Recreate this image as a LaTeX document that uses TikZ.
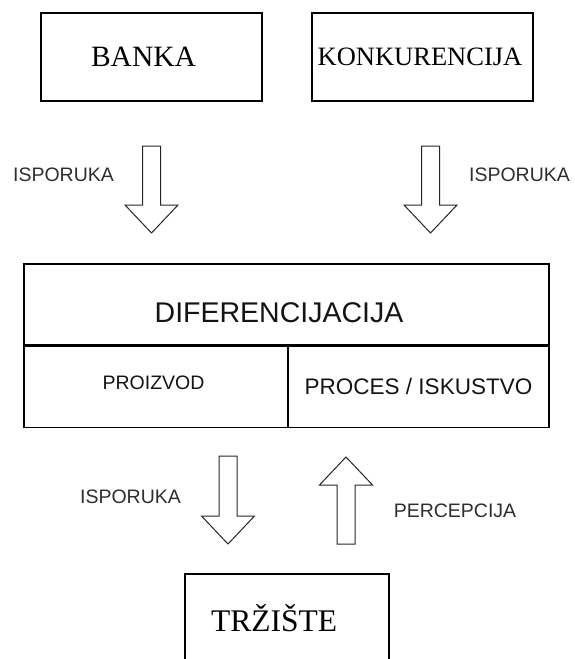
\documentclass[tikz,border=0pt]{standalone}
\usepackage{fontspec}
\setmainfont{Liberation Serif}
\setsansfont{Liberation Sans}
\usetikzlibrary{calc}

% hollow block arrow from tail (#1) to tip (#2), vertical only
\newcommand{\blockarrow}[2]{%
  \draw[blockarr] let \p1=(#1), \p2=(#2), \n1={sign(\y2-\y1)} in
    (\x1-9pt,\y1) -- (\x1+9pt,\y1) -- (\x1+9pt,{\y2-\n1*28pt}) -- (\x1+26.5pt,{\y2-\n1*28pt})
    -- (\x2,\y2) -- (\x1-26.5pt,{\y2-\n1*28pt}) -- (\x1-9pt,{\y2-\n1*28pt}) -- cycle;}

\begin{document}
\begin{tikzpicture}[x=1pt, y=-1pt,
    box/.style={draw, line width=1.1pt, minimum width=221pt, minimum height=88pt, inner sep=0pt},
    cell/.style={draw, line width=1.1pt, inner sep=0pt, minimum height=81pt, text=black!92},
    lbl/.style={font=\sffamily\fontsize{19.5}{22}\selectfont, text=black!82},
    blockarr/.style={draw=black!85, line width=1pt}]

            \useasboundingbox (0,0) rectangle (574,659);
            \clip (0,0) rectangle (574,659);

            \node[box, font=\fontsize{29.5}{33}\selectfont] (banka) at (151.5,57) {BANKA\hspace*{16pt}};
            \node[box, font=\fontsize{26.5}{30}\selectfont] (konk) at (422.5,57) {KONKURENCIJA\hspace*{5pt}};

            \node[cell, minimum width=525pt, text height=36pt, text depth=0pt, font=\sffamily\fontsize{28.5}{32}\selectfont] (dif) at (286.5,304.5) {DIFERENCIJACIJA\hspace*{15pt}};
            \node[cell, minimum width=264pt, anchor=north west, text height=5pt, text depth=0pt, font=\sffamily\fontsize{19.5}{22}\selectfont] (proizvod) at (dif.south west) {PROIZVOD\hspace*{5pt}};
            \node[cell, minimum width=261pt, anchor=north east, font=\sffamily\fontsize{22.5}{26}\selectfont] (proces) at (dif.south east) {PROCES / ISKUSTVO};

            \node[box, minimum width=204pt, font=\fontsize{31.5}{35}\selectfont] (trziste) at (287,618) {TRŽIŠTE\hspace*{26pt}};

            \coordinate (bankaTail) at (151.5,146);
            \coordinate (bankaTip) at (151.5,233);
            \coordinate (konkTail) at (430.5,146);
            \coordinate (konkTip) at (430.5,233);
            \coordinate (isporukaTail) at (228,456);
            \coordinate (isporukaTip) at (228,544);
            \coordinate (percepcijaTail) at (346,544);
            \coordinate (percepcijaTip) at (346,457);

            \blockarrow{bankaTail}{bankaTip}
            \blockarrow{konkTail}{konkTip}
            \blockarrow{isporukaTail}{isporukaTip}
            \blockarrow{percepcijaTail}{percepcijaTip}

            \node[lbl] (lblBanka) at (63.5,175) {ISPORUKA};
            \node[lbl] (lblKonk) at (519.5,175) {ISPORUKA};
            \node[lbl] (lblIsporuka) at (130.5,497) {ISPORUKA};
            \node[lbl] (lblPercepcija) at (455,511) {PERCEPCIJA};

        \end{tikzpicture}
\end{document}
